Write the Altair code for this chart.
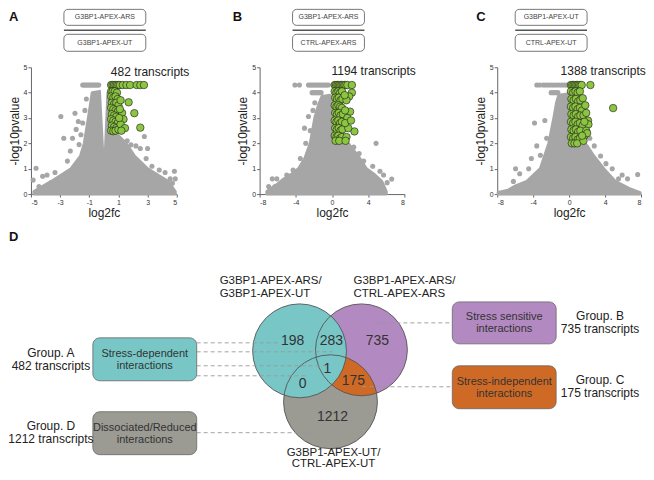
import altair as alt
import numpy as np
import pandas as pd

FONT = "Liberation Sans"
GRAY_PT = "#a6a6a6"
GREEN_PT = "#8cc641"
TEAL = "#78c7c6"
PURPLE = "#b389c1"
ORANGE = "#cf6a26"
VGRAY = "#9b9a93"

# ---------------- Panel A : G3BP1-APEX-ARS / G3BP1-APEX-UT ----------------
a_core = [(-4.8, 0.1), (-3.6, 0.5), (-2.25, 1.0), (-1.6, 1.5), (-1.34, 2.0), (-1.06, 3.0),
          (-0.9, 3.6), (-0.8, 4.0), (-0.3, 4.05), (0.02, 0.55), (0.28, 4.0), (0.45, 2.6),
          (1.0, 2.3), (1.52, 2.0), (2.1, 1.5), (3.0, 1.0), (4.4, 0.5), (4.9, 0.1)]
a_gray = [(-1.45, 4.3), (-1.35, 4.3), (-1.25, 4.3), (-1.15, 4.3), (-1.05, 4.3), (-0.95, 4.3),
          (-0.85, 4.3), (-0.75, 4.3), (-0.65, 4.3), (-0.55, 4.3), (-0.45, 4.3), (-0.35, 4.3),
          (-4.85, 0.55), (-4.65, 1.02), (-4.45, 0.3), (-4.2, 0.7), (-3.9, 0.75), (-3.6, 0.45),
          (-3.35, 0.85), (-2.95, 3.06), (-2.75, 2.2), (-2.5, 1.3), (-2.3, 1.7), (-2.15, 2.2),
          (-1.98, 3.19), (-1.75, 2.86), (-1.57, 2.34), (-1.9, 2.55), (-1.7, 1.95), (-1.45, 2.8),
          (-1.3, 3.3), (-1.2, 3.75), (1.6, 2.1), (1.86, 1.94), (2.2, 1.9), (2.5, 1.8),
          (2.78, 2.27), (3.0, 1.8), (2.9, 1.4), (3.3, 1.1), (3.8, 0.95), (4.2, 0.85),
          (4.55, 0.6), (4.7, 0.43), (4.84, 0.9), (4.9, 0.6), (-4.0, 0.25), (3.6, 0.6)]
a_green = [(0.5, 4.3), (0.6, 4.3), (0.7, 4.3), (0.8, 4.3), (0.9, 4.3), (1.0, 4.3), (1.1, 4.3),
           (1.3, 4.3), (1.55, 4.3), (1.8, 4.3), (2.25, 4.3), (2.5, 4.3), (2.75, 4.3),
           (0.5, 4.05), (0.6, 4.05), (0.75, 4.05), (0.9, 4.0), (0.5, 3.85), (0.65, 3.8),
           (0.8, 3.85), (0.95, 3.75), (0.55, 3.6), (0.7, 3.55), (0.85, 3.6), (1.0, 3.5),
           (0.5, 3.4), (0.65, 3.35), (0.8, 3.3), (0.95, 3.25), (0.55, 3.15), (0.7, 3.1),
           (0.85, 3.05), (0.5, 2.95), (0.65, 2.9), (0.8, 2.85), (0.95, 2.8), (0.55, 2.7),
           (0.7, 2.65), (0.85, 2.6), (0.5, 2.5), (0.65, 2.48), (0.8, 2.5), (1.0, 2.55),
           (1.15, 3.7), (1.7, 3.62), (2.09, 3.19), (2.5, 2.62), (1.25, 3.2), (1.35, 2.95),
           (1.15, 2.75), (1.45, 2.6), (1.1, 3.35), (1.2, 2.5), (1.05, 3.0)]

# ---------------- Panel B : G3BP1-APEX-ARS / CTRL-APEX-ARS ----------------
b_core = [(-7.2, 0.1), (-6.0, 0.4), (-5.5, 0.55), (-4.4, 0.8), (-3.7, 1.0), (-3.0, 1.4),
          (-2.4, 2.0), (-1.9, 3.0), (-1.5, 3.5), (-1.1, 3.85), (-0.2, 3.9), (0.0, 0.25),
          (0.16, 3.9), (0.35, 2.5), (1.3, 2.15), (1.8, 2.0), (2.2, 1.8), (2.9, 1.5),
          (3.8, 1.0), (4.75, 0.75), (5.5, 0.5), (6.0, 0.1)]
b_gray = [(-4.1, 4.3), (-3.6, 4.3), (-2.6, 4.3), (-2.4, 4.3), (-2.2, 4.3), (-2.0, 4.3),
          (-1.8, 4.3), (-1.6, 4.3), (-1.4, 4.3), (-1.2, 4.3), (-1.0, 4.3), (-0.8, 4.3),
          (-0.6, 4.3), (-0.4, 4.3), (-2.2, 4.0), (-2.0, 4.0), (-1.8, 4.0), (-1.6, 4.0),
          (-1.4, 4.0), (-1.2, 4.0), (-6.6, 0.6), (-6.1, 0.6), (-5.5, 0.45), (-5.0, 0.75),
          (-4.8, 0.5), (-4.3, 0.95), (-3.8, 0.9), (-3.04, 2.6), (-2.6, 3.06), (-2.9, 2.0),
          (-2.4, 2.5), (-2.1, 3.3), (-1.9, 3.6), (-3.5, 1.4), (4.87, 2.0), (5.7, 0.75),
          (6.6, 0.59), (6.1, 0.45), (4.5, 1.1), (3.5, 1.3), (3.0, 1.6), (2.4, 1.85),
          (5.3, 0.9), (-7.0, 0.3), (-6.3, 0.3)]
b_green = [(0.3, 4.3), (0.45, 4.3), (0.6, 4.3), (0.75, 4.3), (0.9, 4.3), (1.05, 4.3),
           (1.2, 4.3), (1.35, 4.3), (1.5, 4.3), (1.7, 4.3), (2.2, 4.3),
           (0.3, 4.05), (0.5, 4.0), (0.7, 4.05), (0.9, 4.0), (1.1, 4.05), (0.35, 3.8),
           (0.55, 3.75), (0.75, 3.8), (0.95, 3.7), (1.15, 3.75), (0.3, 3.5), (0.5, 3.45),
           (0.7, 3.5), (0.9, 3.45), (1.1, 3.4), (0.35, 3.2), (0.55, 3.15), (0.75, 3.2),
           (0.95, 3.1), (1.2, 3.15), (0.3, 2.9), (0.5, 2.85), (0.7, 2.9), (0.9, 2.8),
           (1.1, 2.85), (0.35, 2.6), (0.55, 2.55), (0.75, 2.6), (0.95, 2.5), (1.15, 2.55),
           (0.3, 2.3), (0.5, 2.25), (0.7, 2.3), (0.9, 2.2), (1.1, 2.25), (0.4, 2.1), (0.8, 2.1),
           (2.2, 4.0), (1.9, 3.85), (1.6, 3.7), (2.0, 3.25), (1.7, 3.0), (1.45, 3.3),
           (2.48, 2.47), (1.8, 2.6), (1.6, 2.25), (1.45, 2.8), (1.4, 3.9), (1.5, 2.1), (2.1, 2.9)]

# ---------------- Panel C : G3BP1-APEX-UT / CTRL-APEX-UT ----------------
c_core = [(-7.9, 0.06), (-6.8, 0.15), (-6.1, 0.3), (-4.7, 0.5), (-3.2, 1.0), (-2.26, 2.0),
          (-1.7, 3.0), (-1.4, 3.6), (-1.15, 3.9), (-0.15, 3.95), (0.0, 0.2), (0.12, 3.95),
          (0.3, 2.2), (1.5, 2.05), (2.0, 1.9), (2.74, 1.5), (3.85, 1.0), (5.15, 0.5),
          (6.8, 0.2), (7.9, 0.06)]
c_gray = [(-3.6, 4.3), (-3.3, 4.3), (-2.9, 4.3), (-2.6, 4.3), (-2.3, 4.3), (-2.0, 4.3),
          (-1.7, 4.3), (-1.4, 4.3), (-1.1, 4.3), (-0.8, 4.3), (-0.5, 4.3), (-0.25, 4.3),
          (-2.0, 4.0), (-1.75, 4.0), (-1.5, 4.0), (-1.25, 4.0), (-5.96, 1.0), (-6.2, 0.5),
          (-3.85, 2.8), (-3.2, 1.53), (-4.5, 1.0), (-4.2, 1.4), (-3.6, 1.9), (-2.7, 2.9),
          (-2.5, 2.2), (-5.5, 0.8), (7.63, 0.77), (5.5, 0.6), (6.5, 0.6), (5.9, 0.75),
          (4.8, 1.0), (4.1, 1.2), (3.5, 1.5), (2.8, 1.9), (2.3, 2.2)]
c_green = [(0.2, 4.3), (0.35, 4.3), (0.5, 4.3), (0.65, 4.3), (0.8, 4.3), (0.95, 4.3),
           (1.1, 4.3), (1.25, 4.3), (1.4, 4.3), (2.37, 4.3),
           (0.2, 4.05), (0.45, 4.0), (0.7, 4.05), (0.95, 4.0), (1.2, 4.05), (0.25, 3.75),
           (0.5, 3.7), (0.75, 3.75), (1.0, 3.65), (1.25, 3.7), (1.52, 3.78), (0.2, 3.45),
           (0.45, 3.4), (0.7, 3.45), (0.95, 3.35), (1.2, 3.4), (1.45, 3.3), (0.25, 3.15),
           (0.5, 3.1), (0.75, 3.15), (1.0, 3.05), (1.25, 3.1), (1.6, 3.1), (0.2, 2.85),
           (0.45, 2.8), (0.7, 2.85), (0.95, 2.75), (1.2, 2.8), (1.5, 2.7), (0.25, 2.55),
           (0.5, 2.5), (0.75, 2.55), (1.0, 2.45), (1.25, 2.5), (0.2, 2.25), (0.45, 2.2),
           (0.7, 2.25), (0.95, 2.15), (1.2, 2.2), (0.3, 2.0), (0.6, 2.0), (0.9, 2.0),
           (4.9, 3.39), (1.9, 3.2), (2.1, 2.9), (2.15, 2.75), (1.9, 2.5), (1.7, 2.3),
           (1.8, 3.5), (1.7, 2.85), (2.0, 2.4), (1.6, 2.1), (1.45, 2.3)]

# ---------------- Venn diagram ----------------
venn_counts = ["198", "283", "735", "1", "0", "175", "1212"]
group_names = ["Group. A", "Group. B", "Group. C", "Group. D"]
group_sizes = ["482 transcripts", "735 transcripts", "175 transcripts", "1212 transcripts"]
box_lines = [("Stress-dependent", "interactions"), ("Stress sensitive", "interactions"),
             ("Stress-independent", "interactions"), ("Dissociated/Reduced", "interactions")]


def pts(p):
    return pd.DataFrame(p, columns=["x", "y"])


ONE = pd.DataFrame({"k": [0]})


def volcano(letter, letter_x, core, gray, green, dom, ticks, count, count_xy,
            box_x, box_texts, frame_x, width):
    xs = alt.Scale(domain=dom, nice=False, zero=False)
    ys = alt.Scale(domain=[0, 5], nice=False, zero=False)
    X = alt.X("x:Q", scale=xs,
              axis=alt.Axis(values=ticks, title="log2fc", labelExpr="'' + datum.value"))
    Y = alt.Y("y:Q", scale=ys,
              axis=alt.Axis(values=[0, 1, 2, 3, 4, 5], title="-log10pvalue"))
    frame = alt.Chart(ONE).mark_rect(opacity=0).encode(
        x=alt.value(frame_x[0]), x2=alt.value(frame_x[1]), y=alt.value(-59), y2=alt.value(155))
    core_l = alt.Chart(pts(core)).mark_area(
        color=GRAY_PT, stroke=GRAY_PT, strokeWidth=3, strokeJoin="round", opacity=1
    ).encode(x=X, y=Y)
    gray_l = alt.Chart(pts(gray)).mark_circle(size=26, color=GRAY_PT, opacity=1).encode(x=X, y=Y)
    green_l = alt.Chart(pts(green)).mark_circle(
        size=56, color=GREEN_PT, stroke="#1a1a1a", strokeWidth=0.6, opacity=1
    ).encode(x=X, y=Y)
    count_l = alt.Chart(pd.DataFrame({"x": [count_xy[0]], "y": [count_xy[1]], "t": [count]})).mark_text(
        align="left", baseline="alphabetic", fontSize=12, font=FONT, color="#222"
    ).encode(x=X, y=Y, text="t:N")
    deco = []
    bx0, bx1 = box_x
    for (y0, y1), label in zip([(-58, -42), (-33, -16)], box_texts):
        deco.append(alt.Chart(ONE).mark_rect(
            fill="white", stroke="#555", strokeWidth=0.8, cornerRadius=4
        ).encode(x=alt.value(bx0), x2=alt.value(bx1), y=alt.value(y0), y2=alt.value(y1)))
        deco.append(alt.Chart(ONE).mark_text(
            text=label, fontSize=7, font=FONT, color="#444", align="center", baseline="middle"
        ).encode(x=alt.value((bx0 + bx1) / 2), y=alt.value((y0 + y1) / 2)))
    deco.append(alt.Chart(ONE).mark_rule(color="#555", strokeWidth=1.5).encode(
        x=alt.value(bx0), x2=alt.value(bx1), y=alt.value(-37)))
    deco.append(alt.Chart(ONE).mark_text(
        text=letter, fontSize=13, fontWeight="bold", font=FONT, color="#111",
        align="left", baseline="top"
    ).encode(x=alt.value(letter_x), y=alt.value(-56)))
    return alt.layer(frame, core_l, gray_l, green_l, count_l, *deco).properties(
        width=width, height=127)


pA = volcano("A", -22, a_core, a_gray, a_green, [-5, 5], [-5, -3, -1, 1, 3, 5],
             "482 transcripts", (0.48, 4.65), (33, 115),
             ["G3BP1-APEX-ARS", "G3BP1-APEX-UT"], (-22, 191), 146)
pB = volcano("B", -27, b_core, b_gray, b_green, [-8, 8], [-8, -4, 0, 4, 8],
             "1194 transcripts", (-0.05, 4.68), (33, 105),
             ["G3BP1-APEX-ARS", "CTRL-APEX-ARS"], (-38, 200), 145)
pC = volcano("C", -21, c_core, c_gray, c_green, [-8, 8], [-8, -4, 0, 4, 8],
             "1388 transcripts", (-0.95, 4.68), (18, 90),
             ["G3BP1-APEX-UT", "CTRL-APEX-UT"], (-38, 147), 144)

top = alt.hconcat(pA, pB, pC, spacing=0)

# ---- Venn chart: plot area starts at panel A's plot left (page x 30) ----
VX = alt.Scale(domain=[30, 644], nice=False, zero=False)
VY = alt.Scale(domain=[222, 470], nice=False, zero=False, reverse=True)


def vx(f):
    return alt.X(f, type="quantitative", scale=VX, axis=None)


def vy(f):
    return alt.Y(f, type="quantitative", scale=VY, axis=None)


circles = pd.DataFrame({
    "name": ["gray", "purple", "teal"],
    "cx": [330, 361, 299], "cy": [402, 350, 351], "r": [47, 46, 47],
    "fill": [VGRAY, PURPLE, TEAL],
})
circles["s"] = (2 * circles["r"]) ** 2

# lens = purple ∩ gray (drawn orange, teal covers its left part)
lx = np.arange(284.0, 408.5, 0.5)


def arc(cx, cy, r, x):
    h = np.sqrt(np.clip(r ** 2 - (x - cx) ** 2, 0, None))
    return cy - h, cy + h


p_t, p_b = arc(361, 350, 46, lx)
g_t, g_b = arc(330, 402, 47, lx)
lt = np.maximum(p_t, g_t)
lb = np.minimum(p_b, g_b)
ok = (np.abs(lx - 361) <= 46) & (np.abs(lx - 330) <= 47) & (lb > lt)
lens = pd.DataFrame({"x": lx[ok], "y": lt[ok], "y2": lb[ok]})

vframe = alt.Chart(ONE).mark_rect(opacity=0).encode(
    x=alt.value(-22), x2=alt.value(614), y=alt.value(0), y2=alt.value(248))

fill_back = alt.Chart(circles.iloc[:2]).mark_point(shape="circle", filled=True, opacity=1).encode(
    x=vx("cx"), y=vy("cy"), size=alt.Size("s:Q", scale=None), color=alt.Color("fill:N", scale=None))
lens_l = alt.Chart(lens).mark_area(color=ORANGE, opacity=1).encode(
    x=vx("x"), y=vy("y"), y2=alt.Y2("y2"))
fill_teal = alt.Chart(circles.iloc[2:]).mark_point(shape="circle", filled=True, opacity=1).encode(
    x=vx("cx"), y=vy("cy"), size=alt.Size("s:Q", scale=None), color=alt.Color("fill:N", scale=None))
outline = alt.Chart(circles).mark_point(shape="circle", filled=False, color="#555",
                                        strokeWidth=0.9, opacity=1).encode(
    x=vx("cx"), y=vy("cy"), size=alt.Size("s:Q", scale=None))

dashes = pd.DataFrame({
    "x0": [196, 196, 196, 196, 196, 375, 362],
    "x1": [280, 332, 325, 308, 313, 452, 452],
    "y": [343, 352, 366, 376, 433, 323, 387],
})
dash_l = alt.Chart(dashes).mark_rule(color="#999", strokeWidth=0.9, strokeDash=[4, 3]).encode(
    x=vx("x0"), x2=alt.X2("x1"), y=vy("y"))

boxes = pd.DataFrame({
    "x0": [92, 452, 452, 92], "x1": [196, 556, 556, 196],
    "y0": [338, 302, 366, 412], "y1": [381, 344, 409, 455],
    "fill": [TEAL, PURPLE, ORANGE, VGRAY],
})
box_l = alt.Chart(boxes).mark_rect(cornerRadius=7, stroke="#666", strokeWidth=0.8).encode(
    x=vx("x0"), x2=alt.X2("x1"), y=vy("y0"), y2=alt.Y2("y1"), color=alt.Color("fill:N", scale=None))

box_txt = pd.DataFrame({
    "x": [144, 144, 504, 504, 504, 504, 144, 144],
    "y": [354, 366, 317, 329, 382, 394, 428, 440],
    "t": [box_lines[0][0], box_lines[0][1], box_lines[1][0], box_lines[1][1],
          box_lines[2][0], box_lines[2][1], box_lines[3][0], box_lines[3][1]],
})
box_txt_l = alt.Chart(box_txt).mark_text(fontSize=11, font=FONT, color="#333",
                                         align="center", baseline="middle").encode(
    x=vx("x"), y=vy("y"), text="t:N")

grp = pd.DataFrame({
    "x": [50, 50, 600, 600, 600, 600, 50, 50],
    "y": [353, 366, 316, 329, 380, 393, 426, 439],
    "t": [group_names[0], group_sizes[0], group_names[1], group_sizes[1],
          group_names[2], group_sizes[2], group_names[3], group_sizes[3]],
})
grp_l = alt.Chart(grp).mark_text(fontSize=12, font=FONT, color="#222",
                                 align="center", baseline="middle").encode(
    x=vx("x"), y=vy("y"), text="t:N")

num = pd.DataFrame({
    "x": [292, 331, 377, 327, 302, 353, 332],
    "y": [341, 341, 341, 369, 384, 381, 417],
    "t": venn_counts,
})
num_l = alt.Chart(num).mark_text(fontSize=14, font=FONT, color="#333",
                                 align="center", baseline="middle").encode(
    x=vx("x"), y=vy("y"), text="t:N")

set_left = pd.DataFrame({
    "x": [219, 219, 353, 353], "y": [284, 297, 284, 297],
    "t": ["G3BP1-APEX-ARS/", "G3BP1-APEX-UT", "G3BP1-APEX-ARS/", "CTRL-APEX-ARS"],
})
set_left_l = alt.Chart(set_left).mark_text(fontSize=11.5, font=FONT, color="#222",
                                           align="left", baseline="alphabetic").encode(
    x=vx("x"), y=vy("y"), text="t:N")
set_bottom = pd.DataFrame({"x": [333, 333], "y": [456, 467],
                           "t": ["G3BP1-APEX-UT/", "CTRL-APEX-UT"]})
set_bottom_l = alt.Chart(set_bottom).mark_text(fontSize=11.5, font=FONT, color="#222",
                                               align="center", baseline="alphabetic").encode(
    x=vx("x"), y=vy("y"), text="t:N")

d_l = alt.Chart(pd.DataFrame({"x": [8], "y": [231], "t": ["D"]})).mark_text(
    fontSize=13, fontWeight="bold", font=FONT, color="#111", align="left", baseline="top"
).encode(x=vx("x"), y=vy("y"), text="t:N")

venn = alt.layer(vframe, fill_back, lens_l, fill_teal, outline, dash_l, box_l, box_txt_l,
                 grp_l, num_l, set_left_l, set_bottom_l, d_l).properties(width=614, height=248)

chart = alt.vconcat(top, venn, spacing=0).properties(padding=0).configure_view(
    stroke=None
).configure_axis(
    grid=False, labelFont=FONT, titleFont=FONT, labelFontSize=7, titleFontSize=12,
    titleFontWeight="normal", labelColor="#333", titleColor="#222", domainColor="#666",
    tickColor="#666", tickSize=3, labelPadding=1, domainWidth=1, titlePadding=2
)

chart.save("out.html", embed_options={"renderer": "svg", "actions": False})
